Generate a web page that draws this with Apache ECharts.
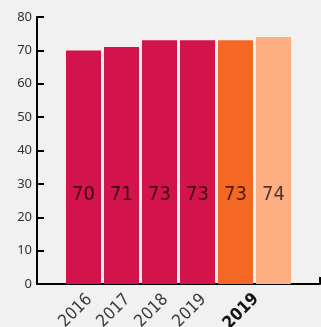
<!DOCTYPE html>
<html><head><meta charset="utf-8">
<script src="https://cdn.jsdelivr.net/npm/echarts@6/dist/echarts.min.js"></script>
<style>html,body{margin:0;padding:0;background:#f1f1f1}#c{width:321px;height:327px}</style>
</head><body><div id="c"></div>
<script>
const categories = ['2016','2017','2018','2019','','2019'];
const values = [70, 71, 73, 73, 73, 74];
const barColors = ['#d3134b','#d3134b','#d3134b','#d3134b','#f56824','#fdae82'];
const boldIndex = 5;
const yTicks = [0,10,20,30,40,50,60,70,80];

const chart = echarts.init(document.getElementById('c'), null, {renderer:'canvas'});
chart.setOption({
  backgroundColor:'#f1f1f1',
  animation:false,
  grid:[
    {left:64.5, width:228, top:17, bottom:43, containLabel:false, outerBoundsMode:'none'},
    {left:37, right:1, top:17, bottom:43, containLabel:false, outerBoundsMode:'none'}
  ],
  xAxis:[
    {type:'category', gridIndex:0,
     data: categories.map((c,i)=> i===boldIndex ? {value:c, textStyle:{fontWeight:'bold', color:'#111', verticalAlign:'bottom', padding:[0,16,0,0]}} : c),
     axisLine:{show:false}, axisTick:{show:false},
     axisLabel:{rotate:45, margin:7, fontSize:17, color:'#3a3a3a', verticalAlign:'top', fontFamily:'DejaVu Sans Condensed, sans-serif', interval:0}},
    {type:'value', gridIndex:1, min:0, max:1, interval:1,
     axisLine:{show:true, lineStyle:{color:'#000', width:2}},
     axisTick:{show:true, inside:true, length:7, lineStyle:{color:'#000', width:2}},
     axisLabel:{show:false}, splitLine:{show:false}}
  ],
  yAxis:[
    {type:'value', gridIndex:0, min:0, max:80, interval:10, show:false},
    {type:'value', gridIndex:1, min:yTicks[0], max:yTicks[yTicks.length-1], interval:10,
     axisLine:{show:true, lineStyle:{color:'#000', width:2}},
     axisTick:{show:true, inside:true, length:7, lineStyle:{color:'#000', width:2}},
     axisLabel:{fontSize:13, color:'#333', margin:5, fontFamily:'Noto Sans, sans-serif'},
     splitLine:{show:false}}
  ],
  series:[{
    type:'bar', xAxisIndex:0, yAxisIndex:0, barWidth:35,
    data: values.map((v,i)=>({value:v, itemStyle:{color:barColors[i]}})),
    label:{show:true, position:'insideBottom', distance:79, fontSize:20,
      color:'rgba(0,0,0,0.7)', fontFamily:'DejaVu Sans Condensed, sans-serif', fontWeight:'normal'}
  }]
});
</script></body></html>
